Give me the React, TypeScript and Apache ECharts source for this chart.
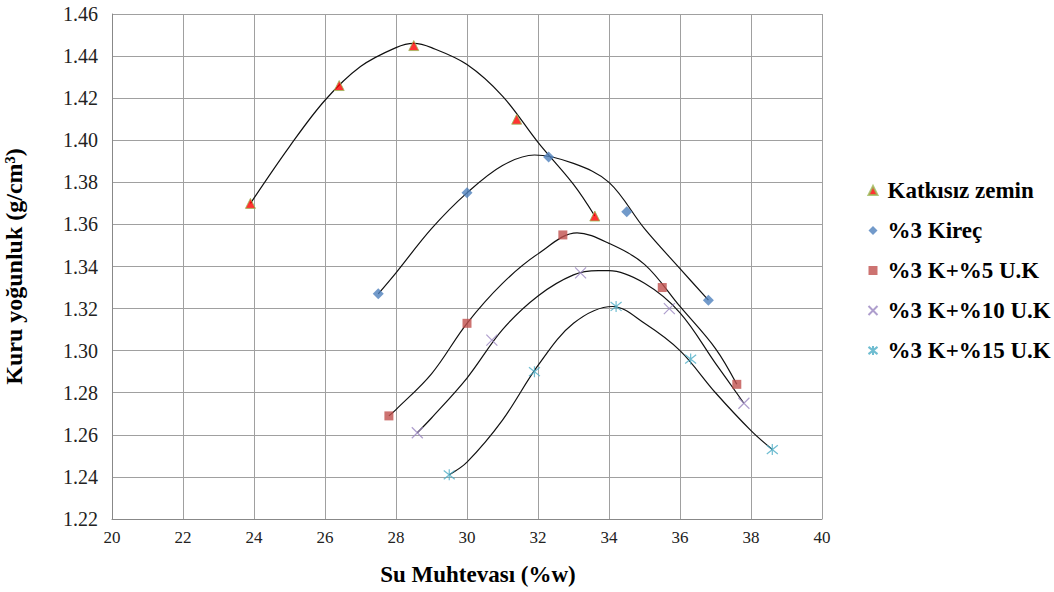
import React, { useEffect, useRef } from "react";
import * as echarts from "echarts";

// Measured points [water content %, dry density g/cm3]
const katkisiz = [[23.9, 1.370], [26.4, 1.426], [28.5, 1.445], [31.4, 1.410], [33.6, 1.364]];
const kirec = [[27.5, 1.327], [30.0, 1.375], [32.3, 1.392], [34.5, 1.366], [36.8, 1.324]];
const uk5 = [[27.8, 1.269], [30.0, 1.313], [32.7, 1.355], [35.5, 1.330], [37.6, 1.284]];
const uk10 = [[28.6, 1.261], [30.7, 1.305], [33.2, 1.337], [35.7, 1.320], [37.8, 1.275]];
const uk15 = [[29.5, 1.241], [31.9, 1.290], [34.2, 1.321], [36.3, 1.296], [38.6, 1.253]];

// Trend curves
const katkisizTrend = [[23.9, 1.370], [25.0, 1.397], [26.0, 1.419], [27.0, 1.435], [28.0, 1.444], [28.5, 1.446], [29.0, 1.444], [30.0, 1.436], [31.0, 1.421], [32.0, 1.399], [33.0, 1.379], [33.6, 1.364]];
const kirecTrend = [[27.5, 1.327], [28.0, 1.337], [29.0, 1.358], [30.0, 1.375], [31.0, 1.388], [31.9, 1.393], [33.0, 1.389], [34.0, 1.380], [35.0, 1.358], [36.0, 1.339], [36.8, 1.324]];
const uk5Trend = [[27.8, 1.269], [28.0, 1.272], [29.0, 1.289], [30.0, 1.313], [31.0, 1.332], [32.0, 1.346], [33.1, 1.356], [34.0, 1.351], [35.0, 1.341], [36.0, 1.321], [37.0, 1.301], [37.6, 1.284]];
const uk10Trend = [[28.6, 1.261], [29.0, 1.268], [30.0, 1.287], [31.0, 1.310], [32.0, 1.326], [33.0, 1.336], [33.7, 1.338], [34.0, 1.338], [35.0, 1.332], [36.0, 1.318], [37.0, 1.294], [37.8, 1.275]];
const uk15Trend = [[29.5, 1.241], [30.0, 1.247], [31.0, 1.267], [32.0, 1.293], [33.0, 1.313], [34.1, 1.321], [35.0, 1.313], [36.0, 1.300], [37.0, 1.280], [38.0, 1.262], [38.6, 1.253]];

const seriesNames = ["Katkısız zemin", "%3 Kireç", "%3 K+%5 U.K", "%3 K+%10 U.K", "%3 K+%15 U.K"];
const xTitle = "Su Muhtevası (%w)";
const yTitle = "Kuru yoğunluk (g/cm³)";

const SERIF = "'Liberation Serif', 'Times New Roman', serif";

export default function App() {
  const ref = useRef<HTMLDivElement>(null);
  useEffect(() => {
    if (!ref.current) return;
    const chart = echarts.init(ref.current, undefined, { renderer: "svg" });
    const trend = (data: number[][]) => ({
      type: "line",
      data,
      smooth: 0.35,
      showSymbol: false,
      symbol: "none",
      silent: true,
      lineStyle: { color: "#111", width: 1.2 },
      z: 2,
    });
    const scatterBase = { type: "scatter", z: 5 };
    chart.setOption({
      animation: false,
      backgroundColor: "#fff",
      grid: { left: 112, top: 14, width: 710, height: 505, containLabel: false, outerBoundsMode: "none" },
      legend: {
        data: seriesNames,
        orient: "vertical",
        left: 866,
        top: 178,
        padding: 0,
        itemGap: 15,
        itemWidth: 9,
        itemHeight: 9,
        textStyle: { fontFamily: SERIF, fontWeight: "bold", fontSize: 23, color: "#000", lineHeight: 25, padding: [0, 0, 0, 5] },
        selectedMode: false,
      },
      xAxis: {
        type: "value",
        min: 20,
        max: 40,
        interval: 2,
        name: xTitle,
        nameLocation: "middle",
        nameGap: 44,
        nameTextStyle: { fontFamily: SERIF, fontWeight: "bold", fontSize: 23, color: "#000", padding: [0, 0, 0, 22] },
        axisLine: { show: true, lineStyle: { color: "#888", width: 1 } },
        axisTick: { show: false },
        axisLabel: { fontFamily: SERIF, fontSize: 17, color: "#222", margin: 10 },
        splitLine: { show: true, lineStyle: { color: "#a0a0a0", width: 1 } },
      },
      yAxis: {
        type: "value",
        min: 1.22,
        max: 1.46,
        interval: 0.02,
        name: yTitle,
        nameLocation: "middle",
        nameGap: 86,
        nameTextStyle: { fontFamily: SERIF, fontWeight: "bold", fontSize: 24, color: "#000" },
        axisLine: { show: true, lineStyle: { color: "#888", width: 1 } },
        axisTick: { show: false },
        axisLabel: { fontFamily: SERIF, fontSize: 20, color: "#222", margin: 14, formatter: (v: number) => v.toFixed(2) },
        splitLine: { show: true, lineStyle: { color: "#a0a0a0", width: 1 } },
      },
      series: [
        trend(katkisizTrend),
        trend(kirecTrend),
        trend(uk5Trend),
        trend(uk10Trend),
        trend(uk15Trend),
        {
          ...scatterBase,
          name: seriesNames[0],
          data: katkisiz,
          symbol: "triangle",
          symbolSize: 10,
          itemStyle: { color: "#ff0000", borderColor: "#9bbb59", borderWidth: 1 },
        },
        {
          ...scatterBase,
          name: seriesNames[1],
          data: kirec,
          symbol: "diamond",
          symbolSize: 11,
          itemStyle: { color: "#4f81bd" },
        },
        {
          ...scatterBase,
          name: seriesNames[2],
          data: uk5,
          symbol: "rect",
          symbolSize: 9,
          itemStyle: { color: "#c0504d" },
        },
        {
          ...scatterBase,
          name: seriesNames[3],
          data: uk10,
          symbol: "path://M0,0L10,10M10,0L0,10",
          symbolSize: 11,
          itemStyle: { color: "none", borderColor: "#9a86c0", borderWidth: 1.2 },
        },
        {
          ...scatterBase,
          name: seriesNames[4],
          data: uk15,
          symbol: "path://M0,1L10,9M10,1L0,9M5,0L5,10",
          symbolSize: 11,
          itemStyle: { color: "none", borderColor: "#4bacc6", borderWidth: 1.2 },
        },
      ],
    });
    return () => chart.dispose();
  }, []);
  return <div ref={ref} style={{ position: "fixed", left: 0, top: 0, width: 1054, height: 592 }} />;
}
